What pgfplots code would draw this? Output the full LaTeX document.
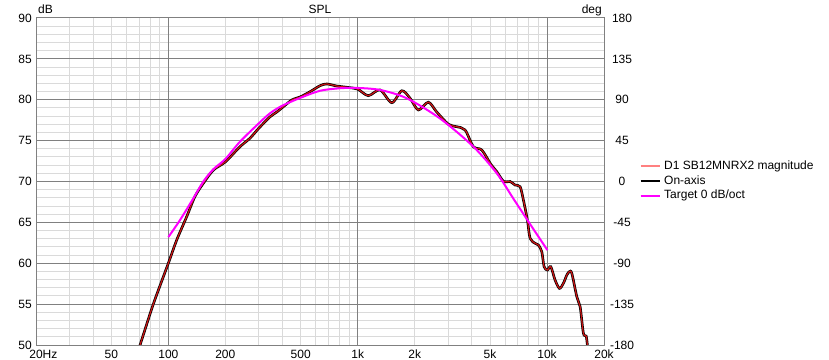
\documentclass[border=0pt]{standalone}
\usepackage{fontspec}
\setmainfont{Liberation Sans}
\usepackage{pgfplots}
\usepackage{pgfplotstable}
\pgfplotsset{compat=1.18}
\definecolor{majgrid}{RGB}{128,128,128}
\definecolor{mingrid}{RGB}{218,218,218}
\definecolor{curvered}{RGB}{205,20,20}
\definecolor{legred}{RGB}{255,128,128}
\definecolor{targetmag}{RGB}{255,0,255}

\pgfplotstableread{
f dB
68.5 49.0
70.9 50.0
83.3 55.0
100 60.0
110.7 62.84
125 65.7
138 68.14
153 69.78
172.9 71.4
200 72.4
239 74.26
270 75.3
300 76.5
344 77.9
374 78.5
405 79.15
449 79.97
500 80.37
560 80.98
633 81.72
687 81.93
775 81.68
893 81.5
1000 81.3
1138 80.5
1313 81.2
1514 79.64
1710 81.1
1892 80.18
2092 78.75
2362 79.7
2616 78.5
3014 77.0
3338 76.7
3693 76.3
4084 74.26
4524 73.85
5050 72.1
5430 71.2
5900 70.0
6380 70.0
6782 69.57
7210 69.36
7504 67.74
7878 65.29
8140 63.05
8650 62.44
9006 62.23
9386 61.4
9652 59.58
10048 59.17
10470 59.58
11030 57.95
11630 56.93
12206 57.55
12722 58.56
13130 58.97
13520 58.77
14370 55.9
14960 54.69
15570 51.43
16090 51.1
16340 50.0
16450 49.3
}\spl

\pgfplotstableread{
f dB
100 63.2
115.3 65.29
135.5 67.94
153 70.0
172.9 71.5
200 72.75
239 74.87
300 77.1
344 78.34
400 79.28
500 80.25
633 81.1
800 81.4
980 81.45
1313 81.2
1816 80.18
2724 77.7
4084 74.26
5430 71.0
6644 67.9
7878 65.29
10048 61.6
}\target

\begin{document}
\begin{tikzpicture}[font=\fontsize{12bp}{14bp}\selectfont]
\path[use as bounding box] (0,0) rectangle (829bp,360bp);
\begin{axis}[
  name=main,
  at={(36bp,15bp)}, anchor=south west,
  scale only axis, width=568bp, height=327bp,
  xmode=log, log basis x=10,
  xmin=20, xmax=20000, ymin=50, ymax=90,
  xtick={20,50,100,200,500,1000,2000,5000,10000,20000},
  xticklabels={20\rlap{Hz},50,100,200,500,1k,2k,5k,10k,20k},
  minor xtick={30,40,60,70,80,90,300,400,600,700,800,900,3000,4000,6000,7000,8000,9000},
  extra x ticks={100,1000,10000},
  extra x tick labels={},
  extra x tick style={grid=major, major grid style={majgrid, line width=1bp}},
  ytick={50,55,...,90},
  minor y tick num=4,
  extra y ticks={55,60,...,85},
  extra y tick labels={},
  extra y tick style={grid=major, major grid style={majgrid, line width=1bp}},
  grid=both,
  major grid style={mingrid, line width=1bp},
  minor grid style={mingrid, line width=1bp},
  major tick length=0pt, minor tick length=0pt,
  axis line style={majgrid, line width=1bp},
  /pgf/number format/assume math mode=true,
  xticklabel style={anchor=north, inner sep=0pt, yshift=-5bp},
  yticklabel style={anchor=east, inner sep=0pt, xshift=-4bp},
  legend style={at={(1.0625,0.5694)}, anchor=north west, draw=none, fill=none,
    inner sep=0pt, column sep=2bp, row sep=0pt,
    nodes={inner sep=1.5bp, text height=9bp, text depth=2.7bp}},
  legend cell align=left,
  legend image code/.code={\draw[#1] (0bp,0bp) -- (19bp,0bp);},
]
\addplot[black, line width=2.6bp, smooth, tension=0.5, forget plot] table[x=f, y=dB] {\spl};
\addplot[curvered, line width=1.2bp, smooth, tension=0.5, forget plot] table[x=f, y=dB] {\spl};
\addplot[targetmag, line width=2bp, smooth, tension=0.5, forget plot] table[x=f, y=dB] {\target};
\addlegendimage{legred, line width=2bp}
\addlegendentry{D1 SB12MNRX2 magnitude}
\addlegendimage{black, line width=2bp}
\addlegendentry{On-axis}
\addlegendimage{targetmag, line width=2bp}
\addlegendentry{Target 0 dB/oct}
\end{axis}
\begin{axis}[
  at={(36bp,15bp)}, anchor=south west,
  scale only axis, width=568bp, height=327bp,
  xmode=log, xmin=20, xmax=20000,
  ymin=-180, ymax=180,
  ytick={-180,-135,...,180},
  axis y line*=right, axis x line=none,
  axis line style={draw=none},
  major tick length=0pt, minor tick length=0pt,
  /pgf/number format/assume math mode=true,
  yticklabel style={anchor=center, inner sep=0pt, xshift=18bp},
]
\end{axis}
\node[anchor=base, inner sep=0pt] at ([yshift=4bp]main.north) {SPL};
\node[anchor=base west, inner sep=0pt] at ([xshift=2bp,yshift=4bp]main.north west) {dB};
\node[anchor=base east, inner sep=0pt] at ([xshift=-2bp,yshift=4bp]main.north east) {deg};
\end{tikzpicture}
\end{document}
